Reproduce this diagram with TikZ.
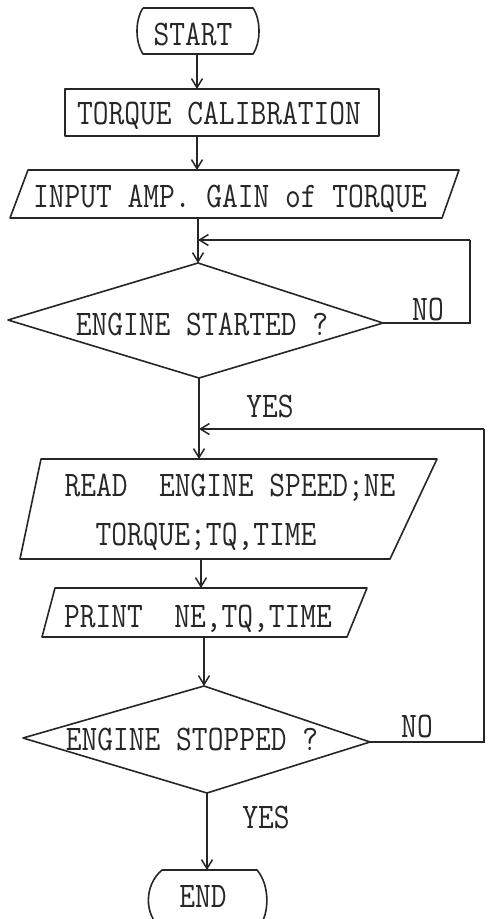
\documentclass[tikz,border=0pt]{standalone}
\usepackage{fontspec}
\usetikzlibrary{arrows.meta}
\newcommand\fctext[1]{\scalebox{0.85}[1]{\ttfamily\addfontfeature{FakeBold=1.2}\fontsize{36}{40}\selectfont #1}}
\begin{document}
\begin{tikzpicture}[x=1pt,y=-1pt,
  boxline/.style={draw=black!85, line width=1.6pt, line join=round},
  flowline/.style={draw=black!85, line width=1.5pt},
  arr/.style={flowline, -{Straight Barb[length=9pt,width=11pt]}},
  lbl/.style={inner sep=0pt, anchor=base, text=black!85}]
\useasboundingbox (0,0) rectangle (488,919);
\fill[white] (0,0) rectangle (488,919);
\clip (0,0) rectangle (488,919);

% ---------- START ----------
\draw[boxline] (143,8) -- (253,8) .. controls (261,20) and (261,42) .. (253,54)
  -- (143,54) .. controls (135,42) and (135,20) .. (143,8);
\node[lbl] (start) at (193,45) {\fctext{START}};
\coordinate (start-b) at (197,54);

% ---------- TORQUE CALIBRATION ----------
\draw[boxline] (65,89) rectangle (379,136);
\node[lbl] (cal) at (219,124) {\fctext{TORQUE CALIBRATION}};
\coordinate (cal-t) at (197,89);
\coordinate (cal-b) at (197,136);

% ---------- INPUT ----------
\draw[boxline] (28,170) -- (459,170) -- (442,218) -- (10,218) -- cycle;
\node[lbl] (inp) at (230,207) {\fctext{INPUT AMP. GAIN of TORQUE}};
\coordinate (inp-t) at (197,170);
\coordinate (inp-b) at (198,218);

% ---------- ENGINE STARTED ? ----------
\draw[boxline] (198,263) -- (383,323) -- (199,378) -- (8,320) -- cycle;
\node[lbl] (d1) at (202,335) {\fctext{ENGINE STARTED ?}};
\coordinate (d1-t) at (198,263);
\coordinate (d1-r) at (383,323);
\coordinate (d1-b) at (199,378);
\coordinate (m1) at (198,240);
\coordinate (c1a) at (470,323);
\coordinate (c1b) at (470,240);
\node[lbl] (no1) at (428,320) {\fctext{NO}};
\node[lbl] (yes1) at (270,417) {\fctext{YES}};

% ---------- READ ----------
\draw[boxline] (41,459) -- (437,459) -- (390,559) -- (20,559) -- cycle;
\node[lbl] (read1) at (230,496) {\fctext{READ\ \ ENGINE SPEED;NE}};
\node[lbl] (read2) at (206,545) {\fctext{TORQUE;TQ,TIME}};
\coordinate (read-t) at (199,459);
\coordinate (read-b) at (201,559);
\coordinate (m2) at (199,429);

% ---------- PRINT ----------
\draw[boxline] (55,588) -- (367,588) -- (347,637) -- (42,637) -- cycle;
\node[lbl] (prn) at (198,627) {\fctext{PRINT\ \ NE,TQ,TIME}};
\coordinate (prn-t) at (201,588);
\coordinate (prn-b) at (204,637);

% ---------- ENGINE STOPPED ? ----------
\draw[boxline] (204,686) -- (370,742) -- (207,793) -- (23,738) -- cycle;
\node[lbl] (d2) at (192,750) {\fctext{ENGINE STOPPED ?}};
\coordinate (d2-t) at (204,686);
\coordinate (d2-r) at (370,742);
\coordinate (d2-b) at (207,793);
\coordinate (c2a) at (484,742);
\coordinate (c2b) at (484,429);
\node[lbl] (no2) at (417,737) {\fctext{NO}};
\node[lbl] (yes2) at (266,828) {\fctext{YES}};

% ---------- END ----------
\draw[boxline] (162,870) -- (257,870) .. controls (270,885) and (270,915) .. (258,928)
  -- (161,928) .. controls (144,915) and (144,885) .. (162,870);
\node[lbl] (end) at (203,907) {\fctext{END}};
\coordinate (end-t) at (207,870);

% ---------- connectors ----------
\draw[arr] (start-b) -- (cal-t);
\draw[arr] (cal-b) -- (inp-t);
\draw[arr] (inp-b) -- (d1-t);
\draw[flowline] (d1-r) -- (c1a) -- (c1b);
\draw[arr] (c1b) -- (m1);
\draw[arr] (d1-b) -- (read-t);
\draw[arr] (read-b) -- (prn-t);
\draw[arr] (prn-b) -- (d2-t);
\draw[flowline] (d2-r) -- (c2a) -- (c2b);
\draw[arr] (c2b) -- (m2);
\draw[arr] (d2-b) -- (end-t);
\end{tikzpicture}
\end{document}
